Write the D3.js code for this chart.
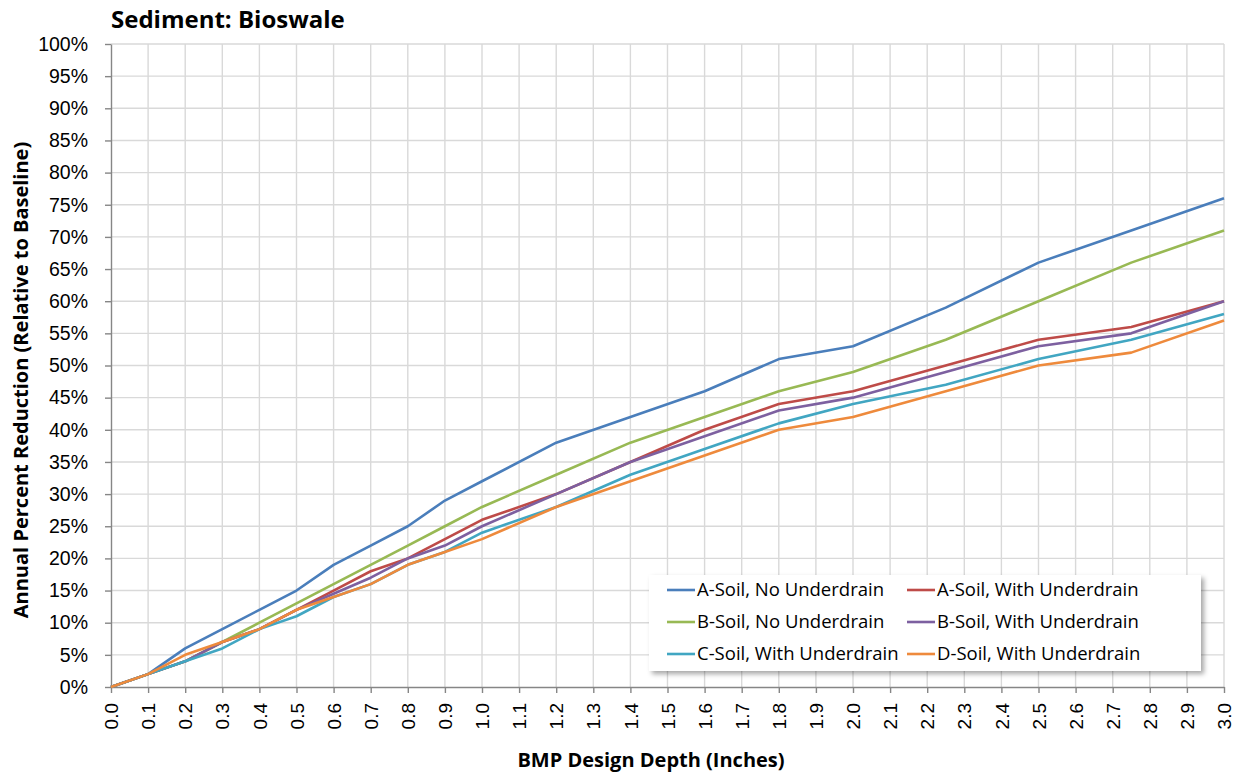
<!DOCTYPE html>
<html>
<head>
<meta charset="utf-8">
<script src="https://cdn.jsdelivr.net/npm/d3@7"></script>
<style>
  body { margin: 0; background: #fff; }
  svg { display: block; font-family: "Open Sans", "Noto Sans", sans-serif; }
</style>
</head>
<body>
<script>
// data
var depths = [0.0, 0.1, 0.2, 0.3, 0.4, 0.5, 0.6, 0.7, 0.8, 0.9, 1.0, 1.2, 1.4, 1.6, 1.8, 2.0, 2.25, 2.5, 2.75, 3.0];

var aSoilNo   = [0, 2, 6, 9, 12, 15, 19, 22, 25, 29, 32, 38, 42, 46, 51, 53, 59, 66, 71, 76];
var aSoilWith = [0, 2, 4, 7, 9, 12, 15, 18, 20, 23, 26, 30, 35, 40, 44, 46, 50, 54, 56, 60];
var bSoilNo   = [0, 2, 4, 7, 10, 13, 16, 19, 22, 25, 28, 33, 38, 42, 46, 49, 54, 60, 66, 71];
var bSoilWith = [0, 2, 4, 7, 9, 12, 14.5, 17, 20, 22, 25, 30, 35, 39, 43, 45, 49, 53, 55, 60];
var cSoilWith = [0, 2, 4, 6, 9, 11, 14, 16, 19, 21, 24, 28, 33, 37, 41, 44, 47, 51, 54, 58];
var dSoilWith = [0, 2, 5, 7, 9, 12, 14, 16, 19, 21, 23, 28, 32, 36, 40, 42, 46, 50, 52, 57];

var seriesNames = ["A-Soil, No Underdrain", "A-Soil, With Underdrain", "B-Soil, No Underdrain",
                   "B-Soil, With Underdrain", "C-Soil, With Underdrain", "D-Soil, With Underdrain"];
var seriesValues = [aSoilNo, aSoilWith, bSoilNo, bSoilWith, cSoilWith, dSoilWith];
var seriesColors = ["#4a7ebb", "#be4b48", "#98b954", "#7d60a0", "#41a6c2", "#ee8a3c"];

var xTicks = [0.0, 0.1, 0.2, 0.3, 0.4, 0.5, 0.6, 0.7, 0.8, 0.9, 1.0, 1.1, 1.2, 1.3, 1.4, 1.5,
              1.6, 1.7, 1.8, 1.9, 2.0, 2.1, 2.2, 2.3, 2.4, 2.5, 2.6, 2.7, 2.8, 2.9, 3.0];
var yTicks = [0, 5, 10, 15, 20, 25, 30, 35, 40, 45, 50, 55, 60, 65, 70, 75, 80, 85, 90, 95, 100];

var W = 1246, H = 775;
var plotL = 111, plotR = 1224, plotT = 44, plotB = 687;

var svg = d3.select(document.body).append('svg')
    .attr('width', W)
    .attr('height', H);

var x = d3.scaleLinear().domain([0, 3]).range([plotL, plotR]);
var y = d3.scaleLinear().domain([0, 100]).range([plotB, plotT]);

// gridlines
svg.append('g')
    .selectAll('line')
    .data(xTicks.slice(1))
    .enter().append('line')
    .attr('x1', function(d){ return x(d); })
    .attr('x2', function(d){ return x(d); })
    .attr('y1', plotT).attr('y2', plotB)
    .attr('stroke', '#d9d9d9').attr('stroke-width', 1.4);

svg.append('g')
    .selectAll('line')
    .data(yTicks.slice(1))
    .enter().append('line')
    .attr('x1', plotL).attr('x2', plotR)
    .attr('y1', function(d){ return y(d); })
    .attr('y2', function(d){ return y(d); })
    .attr('stroke', '#d9d9d9').attr('stroke-width', 1.4);

// axes
var yAxis = d3.axisLeft(y).tickValues(yTicks).tickSize(6).tickSizeOuter(0)
    .tickFormat(function(d){ return d + '%'; });
var gy = svg.append('g').attr('transform', 'translate(' + plotL + ',0)').call(yAxis);
gy.select('.domain').attr('stroke', '#868686').attr('stroke-width', 1.4);
gy.selectAll('.tick line').attr('stroke', '#868686').attr('stroke-width', 1.4);
gy.selectAll('.tick text')
    .attr('x', -23)
    .style('font-size', '19.5px')
    .attr('fill', '#000');

var xAxis = d3.axisBottom(x).tickValues(xTicks).tickSize(6).tickSizeOuter(0)
    .tickFormat(d3.format('.1f'));
var gx = svg.append('g').attr('transform', 'translate(0,' + plotB + ')').call(xAxis);
gx.select('.domain').attr('stroke', '#868686').attr('stroke-width', 1.4);
gx.selectAll('.tick line').attr('stroke', '#868686').attr('stroke-width', 1.4);
gx.selectAll('.tick text')
    .attr('transform', 'rotate(-90)')
    .attr('x', -16).attr('y', 0).attr('dy', '0.35em')
    .attr('text-anchor', 'end')
    .style('font-size', '19px')
    .attr('fill', '#000');

// lines
var line = d3.line()
    .x(function(d){ return x(d[0]); })
    .y(function(d){ return y(d[1]); });

svg.append('g')
    .selectAll('path')
    .data(seriesValues)
    .enter().append('path')
    .attr('d', function(vals){ return line(depths.map(function(dp, i){ return [dp, vals[i]]; })); })
    .attr('fill', 'none')
    .attr('stroke', function(d, i){ return seriesColors[i]; })
    .attr('stroke-width', 2.6)
    .attr('stroke-linejoin', 'round');

// titles
svg.append('text')
    .attr('x', 111).attr('y', 28)
    .style('font-size', '24px').style('font-weight', 'bold')
    .text('Sediment: Bioswale');

svg.append('text')
    .attr('transform', 'translate(28,380) rotate(-90)')
    .attr('text-anchor', 'middle')
    .style('font-size', '20px').style('font-weight', 'bold')
    .text('Annual Percent Reduction (Relative to Baseline)');

svg.append('text')
    .attr('x', 651).attr('y', 767)
    .attr('text-anchor', 'middle')
    .style('font-size', '20px').style('font-weight', 'bold')
    .text('BMP Design Depth (Inches)');

// legend
var defs = svg.append('defs');
var f = defs.append('filter').attr('id', 'shadow')
    .attr('x', '-5%').attr('y', '-10%').attr('width', '115%').attr('height', '130%');
f.append('feDropShadow')
    .attr('dx', 3).attr('dy', 3).attr('stdDeviation', 2.5)
    .attr('flood-color', '#000').attr('flood-opacity', 0.35);

var lg = svg.append('g');
lg.append('rect')
    .attr('x', 649).attr('y', 575)
    .attr('width', 552).attr('height', 96)
    .attr('fill', '#fff')
    .attr('filter', 'url(#shadow)');

var items = lg.selectAll('g')
    .data(seriesNames)
    .enter().append('g')
    .attr('transform', function(d, i){
        return 'translate(' + (i % 2 === 0 ? 667 : 907) + ',' + (590 + Math.floor(i / 2) * 32) + ')';
    });
items.append('line')
    .attr('x1', 0).attr('x2', 28)
    .attr('y1', 0).attr('y2', 0)
    .attr('stroke', function(d, i){ return seriesColors[i]; })
    .attr('stroke-width', 2.6);
items.append('text')
    .attr('x', 30).attr('y', 0).attr('dy', '0.35em')
    .style('font-size', '18.5px')
    .text(function(d){ return d; });
</script>
</body>
</html>
